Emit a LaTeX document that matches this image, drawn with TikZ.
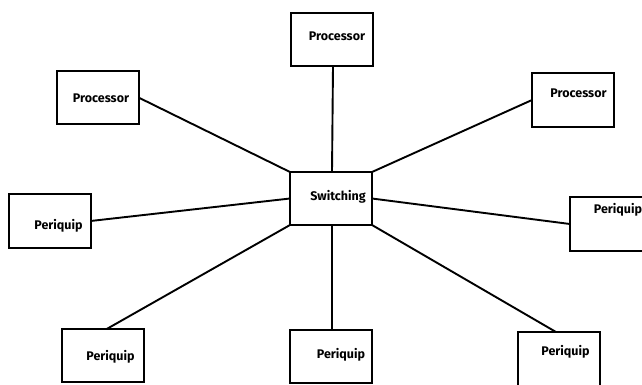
\documentclass[tikz,border=0pt]{standalone}
\usepackage{fontspec}
\setmainfont{Fira Sans}
\begin{document}
\begin{tikzpicture}[x=1pt,y=-1pt,
  unitbox/.style={draw,line width=2pt,minimum width=#1,inner sep=0pt,outer sep=0pt},
  unitbox/.default=82pt,
  lbl/.style={font=\fontsize{12.5}{13}\selectfont\bfseries,inner sep=0pt},
  link/.style={line width=1.9pt}]
\clip (0,0) rectangle (642,384);
\fill[white] (0,0) rectangle (642,384);
% boxes: centre, size
\node[unitbox, minimum height=53pt] (tp) at (332,39.5) {};
\node[unitbox, minimum height=53pt] (lp) at (97.5,97.5) {};
\node[unitbox, minimum height=54pt] (rp) at (573,100) {};
\node[unitbox, minimum height=54pt] (lq) at (49.5,221) {};
\node[unitbox, minimum height=53pt] (sw) at (331,198.5) {};
\node[unitbox=90pt, minimum height=54pt] (rq) at (615,224) {};
\node[unitbox, minimum height=53pt] (blq) at (102.7,355.5) {};
\node[unitbox, minimum height=53pt] (bmq) at (331,356.5) {};
\node[unitbox, minimum height=60pt] (brq) at (559,362) {};
% labels
\node[lbl] (tpt) at (337,36) {Processor};
\node[lbl] (lpt) at (101,98) {Processor};
\node[lbl] (rpt) at (578.5,93) {Processor};
\node[lbl] (lqt) at (58.5,226) {Periquip};
\node[lbl] (swt) at (338,197) {Switching};
\node[lbl] (rqt) at (618,210) {Periquip};
\node[lbl] (blqt) at (110.5,357) {Periquip};
\node[lbl] (bmqt) at (341,355) {Periquip};
\node[lbl] (brqt) at (565.5,352) {Periquip};
% connectors
\draw[link] ([xshift=1pt]tp.south) -- ([xshift=1pt]sw.north);
\draw[link] (lp.east) -- (sw.north west);
\draw[link] (rp.west) -- (sw.north east);
\draw[link] (lq.east) -- (sw.west);
\draw[link] (rq.west) -- (sw.east);
\draw[link] ([xshift=4pt]blq.north) -- (sw.south west);
\draw[link] ([xshift=1pt]bmq.north) -- ([xshift=1pt]sw.south);
\draw[link] ([xshift=-3pt]brq.north) -- (sw.south east);
\end{tikzpicture}
\end{document}
